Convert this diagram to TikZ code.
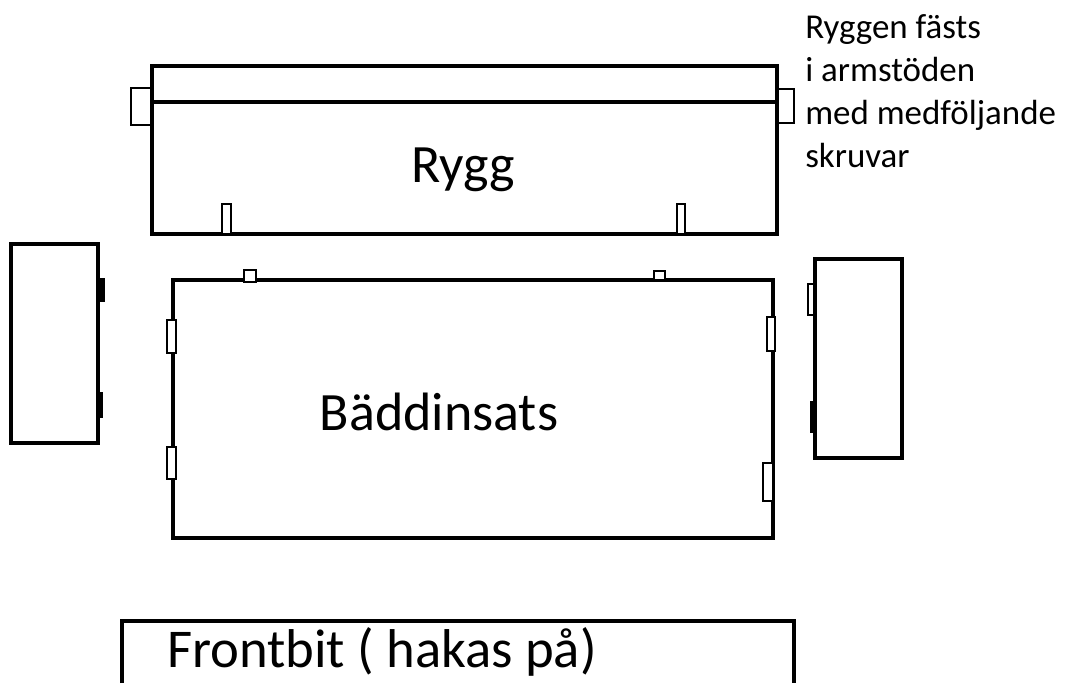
\documentclass[tikz,border=0pt]{standalone}
\usepackage{fontspec}
\setmainfont{Carlito}
\tikzset{
  part/.style={draw=black, line width=2.3pt, fill=white},
  tab/.style={draw=black, line width=2pt, fill=white},
  blacktab/.style={draw=black, line width=.5pt, fill=black},
  bigtext/.style={font=\fontsize{40.5}{40.5}\selectfont, inner sep=0pt},
  notetext/.style={font=\fontsize{26.2}{32.2}\selectfont, align=left, inner sep=0pt, anchor=north west}
}
\begin{document}
\begin{tikzpicture}[x=.75pt, y=-.75pt]
    \useasboundingbox (0,0) rectangle (1065,683);

    % back
    \draw [tab] (131,88) rectangle (151,125)
                (778,89) rectangle (794,123);
    \draw [part] (152,66) rectangle (777,234)
                 (152,102) -- (777,102);
    \draw [tab] (222,204) rectangle (231,234)
                (677,204) rectangle (685,234);

    % left armrest
    \draw [blacktab] (98,278) rectangle (104.5,301)
                     (98,392) rectangle (102,417);
    \draw [part] (11,244) rectangle (98,443);

    % bed insert
    \draw [part] (173,280) rectangle (773,538);
    \draw [tab] (244,270) rectangle (256,282)
                (654,271) rectangle (665,280)
                (167,320) rectangle (176,353)
                (167,447) rectangle (176,479)
                (767,317) rectangle (775,351)
                (763,463) rectangle (773,501);

    % right armrest
    \draw [tab] (808,284) rectangle (815,315);
    \draw [blacktab] (810,401) rectangle (815,432);
    \draw [part] (815,259) rectangle (902,458);

    % front piece, runs off the page
    \draw [part] (122,683) -- (122,621) -- (794,621) -- (794,683);

    % labels
    \node [bigtext] (rygg) at (463,170) {Rygg};
    \node [bigtext] (insats) at (439,412) {Bäddinsats};
    \node [bigtext, font=\fontsize{41}{41}\selectfont] (front) at (382,652) {Frontbit ( hakas på)};
    \node [notetext] (note) at (805,14) {Ryggen fästs\\i armstöden\\med medföljande\\skruvar};
\end{tikzpicture}
\end{document}
